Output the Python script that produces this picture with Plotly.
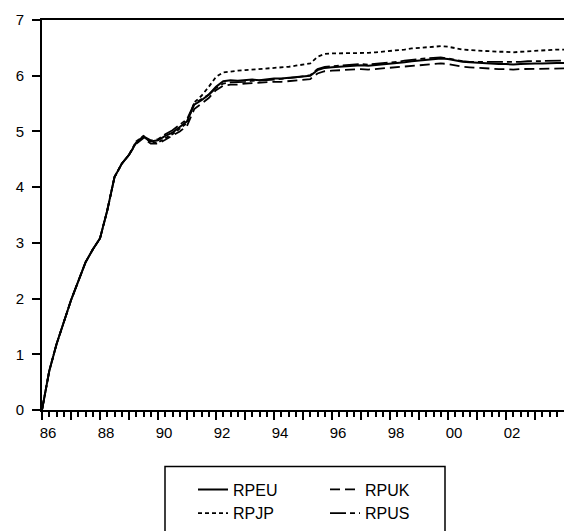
import plotly.graph_objects as go

# quarterly observation dates
dates = [1986 + 0.25 * i for i in range(73)]

# common early path (1986Q1 - 1988Q4), identical for all four series
common = [0.00, 0.70, 1.18, 1.57, 1.97, 2.31, 2.65, 2.88, 3.08, 3.58, 4.18, 4.42]

rpeu_tail = [4.58, 4.80, 4.90, 4.82, 4.84, 4.92, 4.98, 5.08, 5.18, 5.48, 5.56, 5.66,
             5.80, 5.90, 5.92, 5.91, 5.92, 5.93, 5.92, 5.94, 5.95, 5.95, 5.96, 5.97,
             5.98, 6.00, 6.10, 6.14, 6.15, 6.16, 6.18, 6.18, 6.19, 6.18, 6.19, 6.20,
             6.21, 6.22, 6.24, 6.26, 6.27, 6.29, 6.30, 6.31, 6.30, 6.27, 6.25, 6.24,
             6.23, 6.22, 6.22, 6.21, 6.21, 6.20, 6.21, 6.22, 6.22, 6.22, 6.23, 6.23, 6.23]
rpjp_tail = [4.58, 4.82, 4.92, 4.80, 4.80, 4.88, 4.95, 5.05, 5.15, 5.52, 5.64, 5.80,
             5.98, 6.06, 6.08, 6.09, 6.10, 6.11, 6.12, 6.13, 6.14, 6.14, 6.16, 6.18,
             6.20, 6.22, 6.34, 6.39, 6.40, 6.40, 6.41, 6.41, 6.40, 6.41, 6.42, 6.43,
             6.44, 6.45, 6.47, 6.49, 6.50, 6.51, 6.52, 6.53, 6.52, 6.49, 6.47, 6.46,
             6.45, 6.44, 6.44, 6.43, 6.43, 6.42, 6.43, 6.44, 6.45, 6.46, 6.47, 6.47, 6.47]
rpuk_tail = [4.58, 4.78, 4.88, 4.78, 4.78, 4.85, 4.92, 5.00, 5.10, 5.40, 5.50, 5.60,
             5.74, 5.82, 5.84, 5.84, 5.86, 5.87, 5.87, 5.88, 5.89, 5.89, 5.90, 5.91,
             5.92, 5.94, 6.04, 6.08, 6.09, 6.10, 6.11, 6.11, 6.12, 6.11, 6.12, 6.13,
             6.14, 6.15, 6.16, 6.18, 6.19, 6.20, 6.21, 6.22, 6.21, 6.18, 6.16, 6.15,
             6.14, 6.13, 6.13, 6.12, 6.12, 6.11, 6.12, 6.12, 6.13, 6.13, 6.13, 6.13, 6.13]
rpus_tail = [4.58, 4.81, 4.91, 4.84, 4.86, 4.95, 5.02, 5.12, 5.22, 5.50, 5.58, 5.66,
             5.78, 5.86, 5.88, 5.88, 5.89, 5.91, 5.91, 5.92, 5.93, 5.94, 5.95, 5.97,
             5.99, 6.01, 6.12, 6.16, 6.17, 6.18, 6.20, 6.20, 6.21, 6.20, 6.21, 6.22,
             6.23, 6.25, 6.27, 6.29, 6.30, 6.31, 6.32, 6.33, 6.31, 6.28, 6.26, 6.25,
             6.25, 6.24, 6.24, 6.24, 6.24, 6.24, 6.25, 6.26, 6.26, 6.27, 6.27, 6.27, 6.27]

rpeu = common + rpeu_tail
rpjp = common + rpjp_tail
rpuk = common + rpuk_tail
rpus = common + rpus_tail

year_ticks = list(range(1986, 2004))
year_labels = [f"{y % 100:02d}" if y % 2 == 0 else "" for y in year_ticks]
quarter_ticks = [y + q for y in range(1986, 2004) for q in (0.25, 0.5, 0.75)]

W, H = 564, 531
ML, MT, MB = 42, 20, 118
PW, PH = W - ML, H - MT - MB

def px_x(p):  # page pixel -> paper x
    return (p - ML) / PW

def px_y(p):  # page pixel -> paper y
    return (H - MB - p) / PH

font = dict(family="Liberation Sans, Arial, sans-serif", size=15, color="black")
lfont = dict(family="Liberation Sans, Arial, sans-serif", size=16, color="black")

fig = go.Figure()
fig.add_trace(go.Scatter(x=dates, y=rpeu, name="RPEU", mode="lines",
                         line=dict(color="black", width=2, dash="solid"), legend="legend"))
fig.add_trace(go.Scatter(x=dates, y=rpjp, name="RPJP", mode="lines",
                         line=dict(color="black", width=1.8, dash="4px,3px"), legend="legend"))
fig.add_trace(go.Scatter(x=dates, y=rpuk, name="RPUK", mode="lines",
                         line=dict(color="black", width=1.8, dash="10px,5px"), legend="legend2"))
fig.add_trace(go.Scatter(x=dates, y=rpus, name="RPUS", mode="lines",
                         line=dict(color="black", width=1.8, dash="16px,4px,5px,4px"), legend="legend2"))

fig.update_layout(
    width=W, height=H,
    margin=dict(l=ML, r=0, t=MT, b=MB),
    paper_bgcolor="white", plot_bgcolor="white",
    font=font,
    xaxis=dict(range=[1986, 2004], tickmode="array", tickvals=year_ticks, ticktext=year_labels,
               ticks="outside", ticklen=8, tickwidth=2, tickcolor="black",
               showline=True, linecolor="black", linewidth=2, mirror=True,
               showgrid=False, zeroline=False, ticklabelshift=6,
               minor=dict(tickmode="array", tickvals=quarter_ticks, ticks="outside",
                          ticklen=5, tickwidth=1.5, tickcolor="black", showgrid=False),
               tickfont=font),
    yaxis=dict(range=[0, 7], tickmode="linear", tick0=0, dtick=1,
               ticks="outside", ticklen=8, tickwidth=2, tickcolor="black",
               showline=True, linecolor="black", linewidth=2,
               showgrid=False, zeroline=False, tickfont=font, ticklabelstandoff=5),
    legend=dict(x=px_x(193), y=px_y(476), xanchor="left", yanchor="top",
                bgcolor="rgba(0,0,0,0)", borderwidth=0, font=lfont, tracegroupgap=0),
    legend2=dict(x=px_x(325), y=px_y(476), xanchor="left", yanchor="top",
                 bgcolor="rgba(0,0,0,0)", borderwidth=0, font=lfont, tracegroupgap=0),
    shapes=[dict(type="rect", xref="paper", yref="paper",
                 x0=px_x(165), x1=px_x(445), y0=px_y(470), y1=px_y(545),
                 line=dict(color="black", width=1.5), fillcolor="rgba(0,0,0,0)")],
)

fig.write_html(
    "out.html",
    config={"displayModeBar": False},
    post_script="document.body.style.margin='0';document.body.style.overflow='hidden';",
)
